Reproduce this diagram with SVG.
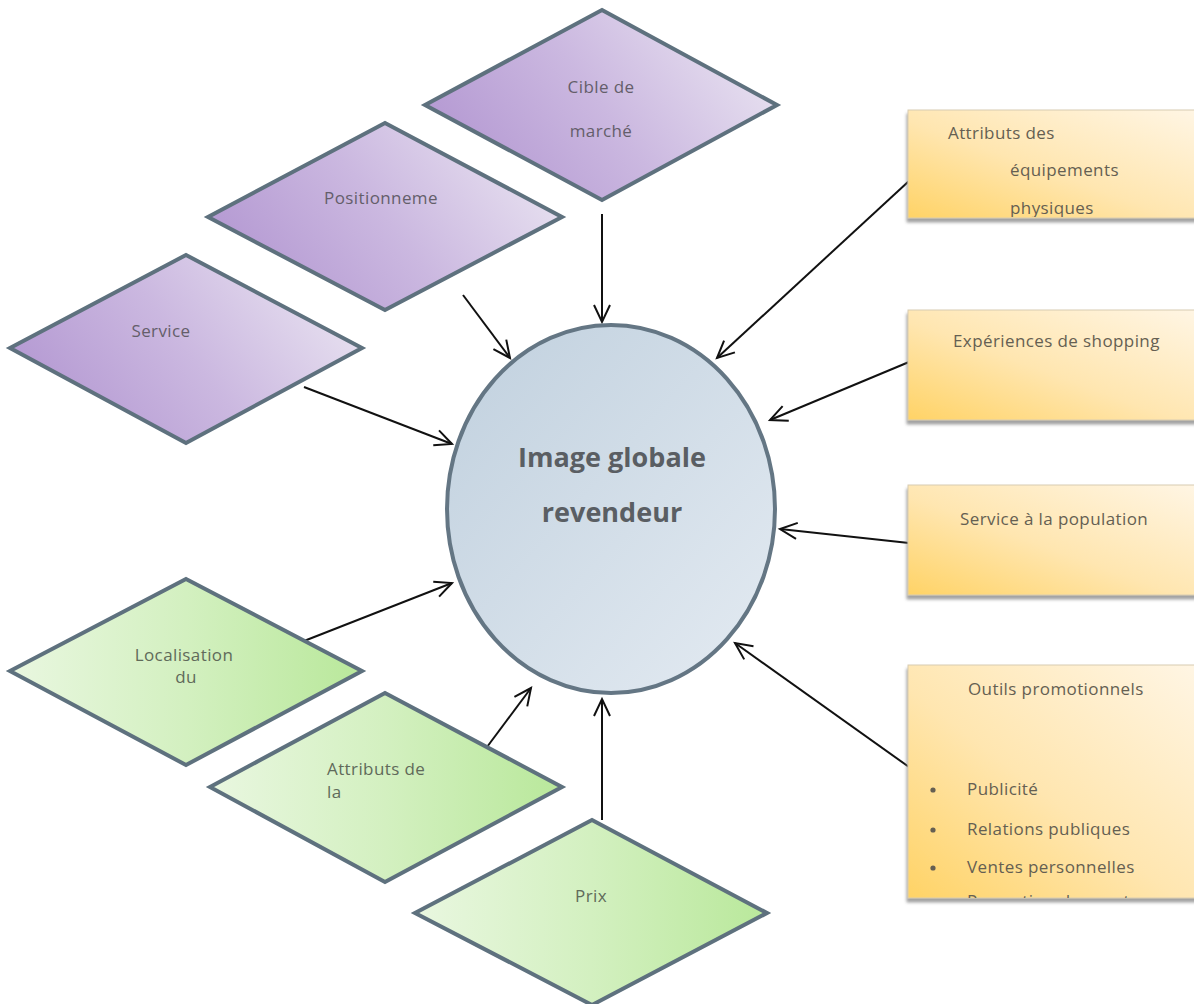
<svg xmlns="http://www.w3.org/2000/svg" width="1194" height="1004" viewBox="0 0 1194 1004">
<style>
.dia{stroke:#5E717E;stroke-width:4;stroke-linejoin:miter}
.dl{font-family:"Open Sans","Liberation Sans",sans-serif;font-size:17px;letter-spacing:0.4px;fill:#645e6a}
.gl{font-family:"Open Sans","Liberation Sans",sans-serif;font-size:17px;letter-spacing:0.4px;fill:#606a5a}
.bx{fill:url(#gOr);stroke:#d8ccb2;stroke-width:1;filter:url(#sh)}
.bt{font-family:"Open Sans","Liberation Sans",sans-serif;font-size:17px;letter-spacing:0.4px;fill:#655f52}
.ct{font-family:"Open Sans","Liberation Sans",sans-serif;font-size:27px;font-weight:bold;fill:#5a5e63}
.cn{stroke:#111;stroke-width:2;fill:none;marker-end:url(#ah)}
</style>
<defs>
<linearGradient id="gPu" x1="0" y1="0.7" x2="1" y2="0.3">
<stop offset="0" stop-color="#b296d1"/>
<stop offset="0.5" stop-color="#cbb8e0"/>
<stop offset="1" stop-color="#e9e3f1"/>
</linearGradient>
<linearGradient id="gGr" x1="0" y1="0.5" x2="1" y2="0.5">
<stop offset="0" stop-color="#e9f7e0"/>
<stop offset="0.5" stop-color="#d3f0c0"/>
<stop offset="1" stop-color="#b9e89b"/>
</linearGradient>
<linearGradient id="gOr" x1="0" y1="1" x2="1" y2="0">
<stop offset="0" stop-color="#ffd366"/>
<stop offset="0.45" stop-color="#ffe6b0"/>
<stop offset="1" stop-color="#fff6e6"/>
</linearGradient>
<linearGradient id="gBl" x1="0" y1="0" x2="1" y2="1">
<stop offset="0" stop-color="#c0d0de"/>
<stop offset="1" stop-color="#e4ebf2"/>
</linearGradient>
<filter id="sh" x="-10%" y="-10%" width="120%" height="130%">
<feDropShadow dx="-1" dy="4" stdDeviation="1.5" flood-color="#7a7a7a" flood-opacity="0.7"/>
</filter>
<marker id="ah" markerUnits="userSpaceOnUse" markerWidth="24" markerHeight="24" viewBox="-20 -10 24 20" refX="0" refY="0" orient="auto">
<path d="M-17,-8 L0,0 L-17,8" fill="none" stroke="#111" stroke-width="2"/>
</marker>
<clipPath id="c1"><rect x="900" y="105" width="300" height="112"/></clipPath>
<clipPath id="c4"><rect x="900" y="660" width="300" height="238"/></clipPath>
</defs>

<g id="connectors">
<line class="cn" x1="602" y1="214" x2="602" y2="322"/>
<line class="cn" x1="463" y1="295" x2="510" y2="358"/>
<line class="cn" x1="304" y1="387" x2="452" y2="444"/>
<line class="cn" x1="304" y1="641" x2="452" y2="583"/>
<line class="cn" x1="487" y1="747" x2="531" y2="688"/>
<line class="cn" x1="602" y1="820" x2="602" y2="699"/>
<line class="cn" x1="909" y1="181" x2="717" y2="358"/>
<line class="cn" x1="909" y1="362" x2="770" y2="420"/>
<line class="cn" x1="909" y1="543" x2="780" y2="529"/>
<line class="cn" x1="909" y1="767" x2="735" y2="643"/>
</g>

<g id="n-cible">
<polygon class="dia" fill="url(#gPu)" points="602,10 777,105 602,200 425,105"/>
<text class="dl" x="601" y="93" text-anchor="middle">Cible de</text>
<text class="dl" x="601" y="137" text-anchor="middle">marché</text>
</g>
<g id="n-positionnement">
<polygon class="dia" fill="url(#gPu)" points="385,123 562,217 385,310 208,217"/>
<text class="dl" x="381" y="204" text-anchor="middle">Positionneme</text>
</g>
<g id="n-service">
<polygon class="dia" fill="url(#gPu)" points="186,255 362,348 186,443 10,348"/>
<text class="dl" x="161" y="337" text-anchor="middle">Service</text>
</g>
<g id="n-localisation">
<polygon class="dia" fill="url(#gGr)" points="186,579 362,671 186,765 10,671"/>
<text class="gl" x="184" y="661" text-anchor="middle">Localisation</text>
<text class="gl" x="186" y="683" text-anchor="middle">du</text>
</g>
<g id="n-attributs-la">
<polygon class="dia" fill="url(#gGr)" points="385,693 562,787 385,882 210,787"/>
<text class="gl" x="327" y="775">Attributs de</text>
<text class="gl" x="327" y="798">la</text>
</g>
<g id="n-prix">
<polygon class="dia" fill="url(#gGr)" points="592,820 767,913 592,1005 415,913"/>
<text class="gl" x="591" y="902" text-anchor="middle">Prix</text>
</g>

<g id="n-image">
<ellipse cx="611" cy="509" rx="164" ry="184" fill="url(#gBl)" stroke="#647684" stroke-width="4"/>
<text class="ct" x="612" y="467" text-anchor="middle">Image globale</text>
<text class="ct" x="612" y="522" text-anchor="middle">revendeur</text>
</g>

<g id="n-equipements">
<rect class="bx" x="908" y="110" width="300" height="108"/>
<g clip-path="url(#c1)">
<text class="bt" x="948" y="139">Attributs des</text>
<text class="bt" x="1010" y="176">équipements</text>
<text class="bt" x="1010" y="214">physiques</text>
</g>
</g>
<g id="n-experiences">
<rect class="bx" x="908" y="310" width="300" height="110"/>
<text class="bt" x="953" y="347">Expériences de shopping</text>
</g>
<g id="n-population">
<rect class="bx" x="908" y="485" width="300" height="110"/>
<text class="bt" x="960" y="525">Service à la population</text>
</g>
<g id="n-outils">
<rect class="bx" x="908" y="665" width="300" height="233"/>
<g clip-path="url(#c4)">
<text class="bt" x="968" y="695">Outils promotionnels</text>
<circle cx="933" cy="790" r="2.6" fill="#655f52"/>
<text class="bt" x="967" y="795">Publicité</text>
<circle cx="933" cy="830" r="2.6" fill="#655f52"/>
<text class="bt" x="967" y="835">Relations publiques</text>
<circle cx="933" cy="868" r="2.6" fill="#655f52"/>
<text class="bt" x="967" y="873">Ventes personnelles</text>
<circle cx="933" cy="904" r="2.6" fill="#655f52"/>
<text class="bt" x="967" y="907">Promotion des ventes</text>
</g>
</g>
</svg>
